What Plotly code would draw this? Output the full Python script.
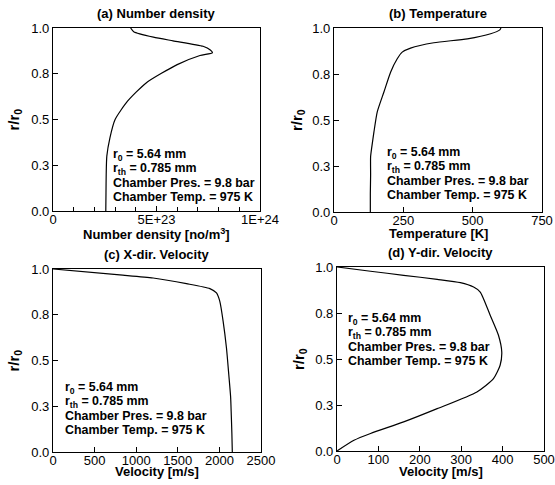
import plotly.graph_objects as go

W, H = 555, 485

# ---- data ----
r_a = [0.0, 0.1, 0.2, 0.3, 0.4, 0.5, 0.6, 0.7, 0.8, 0.85, 0.865, 0.88, 0.9, 0.93, 0.95, 0.98, 1.0]
nd_a = [2.55e23, 2.56e23, 2.57e23, 2.6e23, 2.75e23, 3.0e23, 3.6e23, 4.5e23, 6.0e23, 7.1e23, 7.7e23, 7.6e23, 7.25e23, 5.8e23, 4.85e23, 3.9e23, 3.75e23]

r_b = [0.0, 0.1, 0.2, 0.3, 0.35, 0.435, 0.544, 0.652, 0.76, 0.833, 0.869, 0.891, 0.92, 0.941, 0.969, 0.99, 1.0]
temp_b = [131, 131, 132, 132, 136, 144, 156, 180, 204, 228, 246, 276, 360, 481, 565, 598, 602]

r_c = [0.0, 0.1, 0.2, 0.3, 0.422, 0.568, 0.714, 0.823, 0.869, 0.893, 0.92, 0.951, 0.968, 1.0]
vx_c = [2155, 2150, 2143, 2135, 2113, 2085, 2045, 2005, 1965, 1885, 1604, 1203, 802, 0]

r_d = [0.0, 0.058, 0.095, 0.158, 0.23, 0.321, 0.393, 0.466, 0.538, 0.629, 0.738, 0.864, 0.891, 0.915, 0.933, 0.955, 0.977, 1.0]
vy_d = [0, 41, 81, 161, 242, 338, 378, 394, 398, 390, 370, 346, 330, 298, 242, 161, 81, 0]

y_tickvals = [0, 0.25, 0.5, 0.75, 1.0]
y_ticktext = ["0.0", "0.3", "0.5", "0.8", "1.0"]

titles = ["(a) Number density", "(b) Temperature", "(c) X-dir. Velocity", "(d) Y-dir. Velocity"]
xtitles = ["Number density [no/m<sup>3</sup>]", "Temperature [K]", "Velocity [m/s]", "Velocity [m/s]"]
info_lines = ["r<sub>0</sub> = 5.64 mm", "r<sub>th</sub> = 0.785 mm", "Chamber Pres. = 9.8 bar", "Chamber Temp. = 975 K"]

# ---- layout geometry (pixels) ----
boxes = [  # x0, x1, ytop, ybottom
    (53, 260, 28, 211),
    (334, 542, 28, 212),
    (53, 261, 269, 452),
    (337, 544, 267, 451),
]
info_pos = [(111, 155), (385, 153), (63, 388), (346, 319)]  # left x, first-line center y
ytitle_x = [14, 297, 14, 299]
xtitle_dy = [23, 21, 19, 20]

def px(x):
    return x / W

def py(y):
    return 1 - y / H

FONT = "Liberation Sans, Arial, sans-serif"

fig = go.Figure()
data = [(nd_a, r_a), (temp_b, r_b), (vx_c, r_c), (vy_d, r_d)]
for i, (xv, yv) in enumerate(data):
    n = "" if i == 0 else str(i + 1)
    fig.add_trace(go.Scatter(x=xv, y=yv, mode="lines", line=dict(color="black", width=1.2, shape="spline", smoothing=0.6),
                             xaxis="x" + n, yaxis="y" + n, showlegend=False, hoverinfo="skip"))

xaxis_cfg = [
    dict(range=[0, 1e24], tickvals=[0, 5e23, 1e24], ticktext=["0", "5E+23", "1E+24"],
         minor=dict(tickvals=[1e23 * k for k in range(1, 10) if k != 5], ticks="inside", ticklen=4, tickcolor="black")),
    dict(range=[0, 750], tickvals=[0, 250, 500, 750]),
    dict(range=[0, 2500], tickvals=[0, 500, 1000, 1500, 2000, 2500]),
    dict(range=[0, 500], tickvals=[0, 100, 200, 300, 400, 500]),
]

annotations = []
for i, (x0, x1, yt, yb) in enumerate(boxes):
    n = "" if i == 0 else str(i + 1)
    common = dict(showline=True, linecolor="black", linewidth=1.3, mirror=True, ticks="inside", ticklen=5,
                  tickcolor="black", showgrid=False, zeroline=False, automargin=False,
                  tickfont=dict(family=FONT, size=13, color="black"))
    xa = dict(domain=[px(x0), px(x1)], anchor="y" + n, ticklabelstandoff=-4, **common, **xaxis_cfg[i])
    ya = dict(domain=[py(yb), py(yt)], anchor="x" + n, range=[0, 1], tickvals=y_tickvals, ticktext=y_ticktext, **common)
    fig.layout["xaxis" + n] = xa
    fig.layout["yaxis" + n] = ya
    cx = (x0 + x1) / 2
    annotations.append(dict(text="<b>%s</b>" % titles[i], x=px(cx), y=py(yt - 5), xref="paper", yref="paper",
                            xanchor="center", yanchor="bottom", showarrow=False,
                            font=dict(family=FONT, size=13, color="black")))
    annotations.append(dict(text="<b>%s</b>" % xtitles[i], x=px(cx), y=py(yb + xtitle_dy[i]), xref="paper", yref="paper",
                            xanchor="center", yanchor="middle", showarrow=False,
                            font=dict(family=FONT, size=13, color="black")))
    annotations.append(dict(text="<b>r/r<sub>0</sub></b>", x=px(ytitle_x[i]), y=py((yt + yb) / 2), xref="paper", yref="paper",
                            xanchor="center", yanchor="middle", showarrow=False, textangle=-90,
                            font=dict(family=FONT, size=15, color="black")))
    lx, ly = info_pos[i]
    for k, line in enumerate(info_lines):
        annotations.append(dict(text="<b>%s</b>" % line, x=px(lx), y=py(ly + 14 * k), xref="paper", yref="paper",
                                xanchor="left", yanchor="middle", showarrow=False,
                                font=dict(family=FONT, size=12.4, color="black")))

fig.update_layout(width=W, height=H, margin=dict(l=0, r=0, t=0, b=0, autoexpand=False),
                  paper_bgcolor="white", plot_bgcolor="white",
                  annotations=annotations, font=dict(family=FONT, color="black"))

fig.write_html("out.html", config={"displayModeBar": False},
               post_script="document.body.style.margin='0';document.body.style.padding='0';document.body.style.overflow='hidden';")
